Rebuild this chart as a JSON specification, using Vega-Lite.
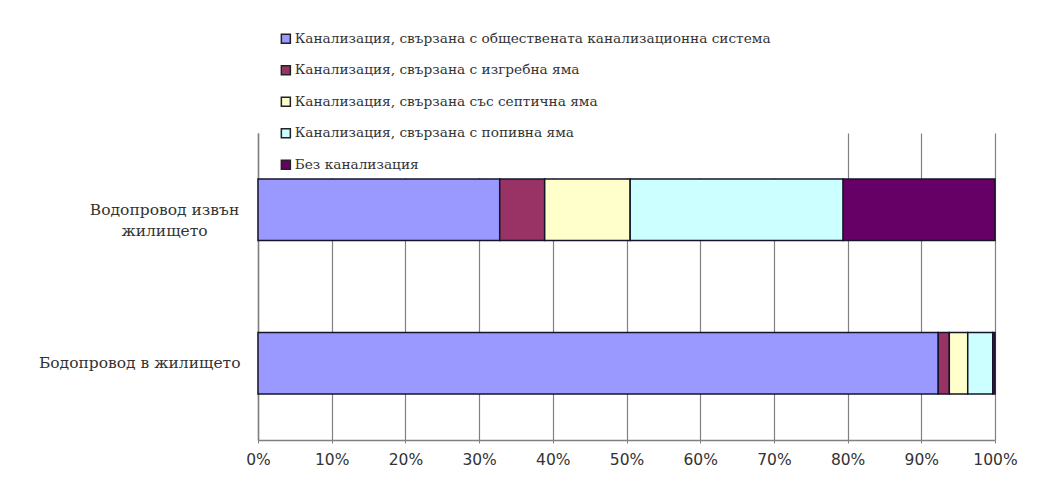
{
  "$schema": "https://vega.github.io/schema/vega-lite/v6.json",
  "width": 737,
  "height": 307,
  "autosize": {"type": "none"},
  "padding": {"left": 258, "top": 133, "right": 48, "bottom": 48},
  "background": "white",
  "config": {"view": {"stroke": null}},
  "data": {
    "values": [
      {"category": "Водопровод извън жилището", "type": "Канализация, свързана с обществената канализационна система", "share": 32.8},
      {"category": "Водопровод извън жилището", "type": "Канализация, свързана с изгребна яма", "share": 6.1},
      {"category": "Водопровод извън жилището", "type": "Канализация, свързана със септична яма", "share": 11.6},
      {"category": "Водопровод извън жилището", "type": "Канализация, свързана с попивна яма", "share": 28.9},
      {"category": "Водопровод извън жилището", "type": "Без канализация", "share": 20.6},
      {"category": "Бодопровод в жилището", "type": "Канализация, свързана с обществената канализационна система", "share": 92.3},
      {"category": "Бодопровод в жилището", "type": "Канализация, свързана с изгребна яма", "share": 1.5},
      {"category": "Бодопровод в жилището", "type": "Канализация, свързана със септична яма", "share": 2.5},
      {"category": "Бодопровод в жилището", "type": "Канализация, свързана с попивна яма", "share": 3.4},
      {"category": "Бодопровод в жилището", "type": "Без канализация", "share": 0.3}
    ]
  },
  "transform": [
    {"calculate": "indexof(['Канализация, свързана с обществената канализационна система', 'Канализация, свързана с изгребна яма', 'Канализация, свързана със септична яма', 'Канализация, свързана с попивна яма', 'Без канализация'], datum.type)", "as": "stackOrder"}
  ],
  "mark": {"type": "bar", "stroke": "#15152a", "strokeWidth": 1.5},
  "encoding": {
    "y": {
      "field": "category",
      "type": "nominal",
      "sort": ["Водопровод извън жилището", "Бодопровод в жилището"],
      "scale": {"paddingInner": 0.6, "paddingOuter": 0.3},
      "axis": {
        "title": null,
        "ticks": false,
        "domainColor": "#808080",
        "domainWidth": 1.5,
        "labelFont": "DejaVu Serif",
        "labelFontSize": 15.5,
        "labelColor": "#333333",
        "labelAlign": {"condition": {"test": "datum.value == 'Водопровод извън жилището'", "value": "center"}, "value": "right"},
        "labelPadding": {"condition": {"test": "datum.value == 'Водопровод извън жилището'", "value": 94}, "value": 18},
        "labelLimit": 300,
        "labelLineHeight": 21,
        "labelExpr": "datum.label == 'Водопровод извън жилището' ? ['Водопровод извън', 'жилището'] : datum.label"
      }
    },
    "x": {
      "field": "share",
      "type": "quantitative",
      "stack": "normalize",
      "scale": {"domain": [0, 1], "nice": false},
      "axis": {
        "title": null,
        "format": "%",
        "values": [0, 0.1, 0.2, 0.3, 0.4, 0.5, 0.6, 0.7, 0.8, 0.9, 1],
        "grid": true,
        "gridColor": "#808080",
        "gridWidth": 1.2,
        "gridOpacity": 1,
        "domainColor": "#808080",
        "domainWidth": 1.5,
        "tickColor": "#808080",
        "tickSize": 3,
        "labelFlush": false,
        "labelOverlap": false,
        "labelFont": "DejaVu Sans",
        "labelFontSize": 15.5,
        "labelColor": "#333333",
        "labelPadding": 9
      }
    },
    "order": {"field": "stackOrder", "type": "quantitative"},
    "color": {
      "field": "type",
      "type": "nominal",
      "sort": [
        "Канализация, свързана с обществената канализационна система",
        "Канализация, свързана с изгребна яма",
        "Канализация, свързана със септична яма",
        "Канализация, свързана с попивна яма",
        "Без канализация"
      ],
      "scale": {"range": ["#9999FF", "#993366", "#FFFFCC", "#CCFFFF", "#660066"]},
      "legend": {
        "title": null,
        "orient": "none",
        "legendX": 16,
        "legendY": -106,
        "fillColor": "white",
        "padding": 5,
        "symbolType": "square",
        "symbolSize": 81,
        "symbolStrokeColor": "#222222",
        "symbolStrokeWidth": 1.5,
        "labelFont": "DejaVu Serif",
        "labelFontSize": 13.7,
        "labelColor": "#333333",
        "labelOffset": 2,
        "labelLimit": 700,
        "rowPadding": 15.5
      }
    }
  }
}
